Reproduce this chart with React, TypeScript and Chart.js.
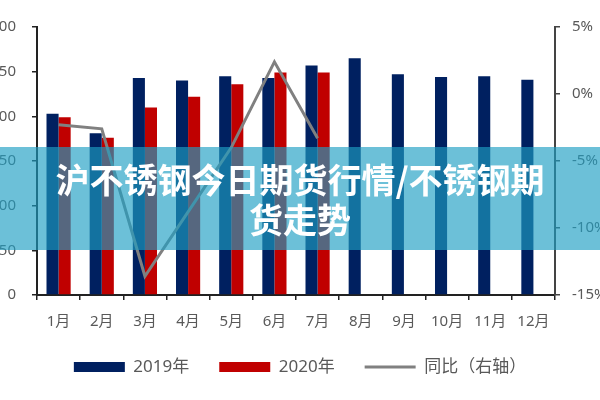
import React, { useEffect, useRef } from "react";
import { Chart, registerables } from "chart.js";

Chart.register(...registerables);

const months = ["1月", "2月", "3月", "4月", "5月", "6月", "7月", "8月", "9月", "10月", "11月", "12月"];
const values2019 = [203, 181, 243, 240, 245, 243, 257, 265, 247, 244, 245, 241];
const values2020 = [199, 176, 210, 222, 236, 249, 249, null, null, null, null, null];
const yoyPercent = [-2.3, -2.6, -13.6, -8.8, -4.0, 2.4, -3.3, null, null, null, null, null];
const seriesNames = ["2019年", "2020年", "同比（右轴）"];
const leftMin = 0;
const leftMax = 300;
const leftStep = 50;
const rightMin = -15;
const rightMax = 5;
const rightStep = 5;
const titleLines = ["沪不锈钢今日期货行情/不锈钢期", "货走势"];

const FONT = '"Noto Sans", "Noto Sans CJK SC", sans-serif';
const LABEL = "#595959";

export default function App() {
  const ref = useRef<HTMLCanvasElement | null>(null);

  useEffect(() => {
    if (!ref.current) return;
    Chart.defaults.font.family = FONT;
    const chart = new Chart(ref.current, {
      type: "bar",
      data: {
        labels: months,
        datasets: [
          {
            type: "bar",
            label: seriesNames[0],
            data: values2019,
            backgroundColor: "#002060",
            borderWidth: 0,
            yAxisID: "y",
            order: 1,
            categoryPercentage: 0.56,
            barPercentage: 1.0,
          },
          {
            type: "bar",
            label: seriesNames[1],
            data: values2020,
            backgroundColor: "#C00000",
            borderWidth: 0,
            yAxisID: "y",
            order: 1,
            categoryPercentage: 0.56,
            barPercentage: 1.0,
          },
          {
            type: "line",
            label: seriesNames[2],
            data: yoyPercent,
            borderColor: "#808080",
            backgroundColor: "#808080",
            borderWidth: 3,
            pointRadius: 0,
            tension: 0,
            fill: false,
            yAxisID: "y1",
            order: 0,
          },
        ],
      } as any,
      options: {
        responsive: false,
        devicePixelRatio: 1,
        animation: false,
        layout: { padding: { top: 27, left: 0, right: 0, bottom: 14.5 } },
        plugins: {
          tooltip: { enabled: false },
          title: { display: false },
          legend: {
            display: true,
            position: "bottom",
            labels: {
              color: LABEL,
              font: { size: 17, family: FONT },
              usePointStyle: true,
              pointStyleWidth: 51,
              boxHeight: 10,
              padding: 30,
              sort: (a: any, b: any) => a.datasetIndex - b.datasetIndex,
              generateLabels: (c: any) => {
                const items = Chart.defaults.plugins.legend.labels.generateLabels(c);
                return items.map((it: any) => ({
                  ...it,
                  pointStyle: it.datasetIndex === 2 ? "line" : "rect",
                  lineWidth: it.datasetIndex === 2 ? 3 : 0,
                }));
              },
            },
          },
        },
        scales: {
          x: {
            grid: {
              display: true,
              drawOnChartArea: false,
              drawTicks: true,
              tickLength: 5,
              color: "#222",
              tickColor: "#222",
              lineWidth: 1.5,
            },
            border: { display: true, color: "#222", width: 2 },
            ticks: { color: LABEL, font: { size: 15, family: FONT }, padding: 13, maxRotation: 0, autoSkip: false },
            afterFit: (s: any) => {
              s.height = 33.5;
            },
          },
          y: {
            position: "left",
            min: leftMin,
            max: leftMax,
            grid: {
              drawOnChartArea: false,
              drawTicks: true,
              tickLength: 5,
              color: "#222",
              tickColor: "#222",
              lineWidth: 1.5,
            },
            border: { display: true, color: "#222", width: 2 },
            ticks: { stepSize: leftStep, color: LABEL, font: { size: 15, family: FONT }, padding: 16 },
            afterFit: (s: any) => {
              s.width = 37;
            },
          },
          y1: {
            position: "right",
            min: rightMin,
            max: rightMax,
            grid: {
              drawOnChartArea: false,
              drawTicks: true,
              tickLength: 5,
              color: "#444",
              tickColor: "#444",
              lineWidth: 1.5,
            },
            border: { display: true, color: "#444", width: 2 },
            ticks: {
              stepSize: rightStep,
              color: LABEL,
              font: { size: 15, family: FONT },
              padding: 12,
              callback: (v: any) => `${v}%`,
            },
            afterFit: (s: any) => {
              s.width = 45;
            },
          },
        },
      } as any,
    });
    return () => chart.destroy();
  }, []);

  return (
    <div style={{ position: "absolute", left: 0, top: 0, width: 600, height: 400, background: "#fff", overflow: "hidden" }}>
      <canvas ref={ref} width={600} height={400} style={{ display: "block", width: 600, height: 400 }} />
      <div
        style={{
          position: "absolute",
          left: 0,
          top: 147,
          width: 600,
          height: 103,
          boxSizing: "border-box",
          paddingTop: 12,
          background: "rgba(29,158,195,0.65)",
          color: "#fff",
          fontFamily: '"Noto Sans CJK SC", "Noto Sans", sans-serif',
          fontWeight: 700,
          fontSize: 34,
          lineHeight: "40px",
          textAlign: "center",
          whiteSpace: "nowrap",
        }}
      >
        <div>{titleLines[0]}</div>
        <div>{titleLines[1]}</div>
      </div>
    </div>
  );
}
